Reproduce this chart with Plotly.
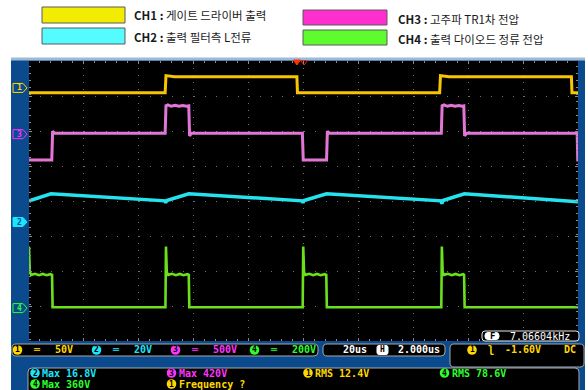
import plotly.graph_objects as go

# ---------------- channel settings ----------------
ch_names = ["CH1", "CH2", "CH3", "CH4"]
volts_per_div = [50, 20, 500, 200]
ground_div = [3.23, -0.6, 1.91, -3.06]          # ground marker position, divisions from centre
scale_labels = ["50V", "20V", "500V", "200V"]
trace_colors = ["#F7C600", "#25E2EE", "#E276D6", "#6BE01C"]
trace_widths = [3, 3.5, 3, 2.6]
text_colors = ["#FFD800", "#19E6FF", "#FF33FF", "#2CFF2C"]
swatch_colors = ["#F2EC00", "#55FCFF", "#FF2ECF", "#5EFB2E"]
legend_text = [
    "CH1 : 게이트 드라이버 출력",
    "CH2 : 출력 필터측 L전류",
    "CH3 : 고주파 TR1차 전압",
    "CH4 : 출력 다이오드 정류 전압",
]

# ---------------- waveforms (time in us, value in V) ----------------
ch1_t = [-100, -50.4, -50.1, -49.0, -47.0, -2.4, -2.2, 49.6, 49.9, 51.0, 53.0, 97.6, 97.8, 100]
ch1_v = [-6.8, -6.8, 17.6, 17.0, 16.1, 16.1, -6.8, -6.8, 17.6, 17.0, 16.1, 16.1, -6.8, -6.8]

ch2_t = [-100, -99.6, -92.0, -50.5, -50.2, -49.8, -41.8, -0.5, -0.2, 0.2, 8.4,
         50.1, 50.4, 50.8, 58.6, 99.7, 100]
ch2_v = [11.4, 12.3, 16.1, 12.1, 11.0, 12.3, 16.1, 12.1, 11.0, 12.3, 16.1,
         12.1, 10.4, 12.3, 16.1, 12.1, 11.6]

ch3_t = [-100, -91.7, -91.4, -90.6,
         -50.4, -50.1, -49.4, -48.2, -46.8, -45.4, -44.0, -42.6, -41.8, -41.5, -40.8,
         -0.4, -0.1, 8.4, 8.7, 9.4,
         50.2, 50.5, 51.2, 52.4, 53.8, 55.2, 56.6, 57.8, 58.4, 58.7, 59.4,
         99.7, 99.9, 100]
ch3_v = [-371, -371, 40, 14,
         14, 405, 418, 398, 412, 398, 410, 398, 404, -25, 14,
         14, -371, -371, 40, 14,
         14, 405, 418, 398, 412, 398, 410, 398, 404, -25, 14,
         14, -371, -371]

ch4_t = [-100, -99.7, -99.2, -97.8, -96.4, -95.0, -93.6, -92.2, -91.6, -91.4,
         -50.3, -50.1, -49.8, -49.3, -47.9, -46.5, -45.1, -43.7, -42.3, -41.8, -41.6,
         -0.3, -0.1, 0.2, 0.7, 2.1, 3.5, 4.9, 6.3, 7.7, 8.3, 8.5,
         50.2, 50.4, 50.7, 51.2, 52.6, 54.0, 55.4, 56.8, 58.2, 58.5, 58.7,
         100]
ch4_v = [352, 205, 190, 196, 188, 195, 188, 194, 190, 5,
         5, 352, 205, 190, 196, 188, 195, 188, 194, 190, 5,
         5, 352, 205, 190, 196, 188, 195, 188, 194, 190, 5,
         5, 352, 205, 190, 196, 188, 195, 188, 194, 190, 5,
         5]

waves = [(ch1_t, ch1_v), (ch2_t, ch2_v), (ch3_t, ch3_v), (ch4_t, ch4_v)]

# ---------------- readouts ----------------
timebase_label = "20us"
hpos_label = "2.000us"
trig_source = 1
trig_level_label = "-1.60V"
trig_coupling = "DC"
freq_label = "7.06604kHz"
trig_time = -2.4
meas_channel = [2, 3, 1, 4, 4, 1]
meas_text = ["Max 16.8V", "Max 420V", "RMS 12.4V", "RMS 78.6V", "Max 360V", "Frequency ?"]

# ---------------- geometry helpers ----------------
FIG_W, FIG_H = 588, 390
GX0, GX1, GY0, GY1 = 29, 578, 61, 341
FRAME = "#0C4A8E"
MONO = "DejaVu Sans Mono"
KR = "Noto Sans CJK KR"
TICK = "#8c8c8c"


def px(x):
    return (x - GX0) / (GX1 - GX0)


def py(y):
    return (GY1 - y) / (GY1 - GY0)


shapes = []
annotations = []


def rect(x0, y0, x1, y1, fill, line=None, lw=1):
    shapes.append(dict(type="rect", xref="paper", yref="paper", layer="above",
                       x0=px(x0), x1=px(x1), y0=py(y1), y1=py(y0), fillcolor=fill,
                       line=dict(color=line or fill, width=lw if line else 0)))


def rrect(x0, y0, x1, y1, r, fill, line, lw=1):
    pts = [("M", x0 + r, y0), ("L", x1 - r, y0), ("Q", x1, y0, x1, y0 + r),
           ("L", x1, y1 - r), ("Q", x1, y1, x1 - r, y1), ("L", x0 + r, y1),
           ("Q", x0, y1, x0, y1 - r), ("L", x0, y0 + r), ("Q", x0, y0, x0 + r, y0)]
    d = ""
    for p in pts:
        cmd, coords = p[0], p[1:]
        xy = []
        for i in range(0, len(coords), 2):
            xy.append(f"{px(coords[i]):.5f},{py(coords[i + 1]):.5f}")
        d += cmd + " " + " ".join(xy) + " "
    shapes.append(dict(type="path", xref="paper", yref="paper", layer="above", path=d + "Z",
                       fillcolor=fill, line=dict(color=line, width=lw)))


def circle(cx, cy, r, fill):
    shapes.append(dict(type="circle", xref="paper", yref="paper", layer="above",
                       x0=px(cx - r), x1=px(cx + r), y0=py(cy + r), y1=py(cy - r),
                       fillcolor=fill, line=dict(width=0)))


def text(x, y, s, color, size=10, family=MONO, anchor="left"):
    annotations.append(dict(xref="paper", yref="paper", x=px(x), y=py(y), text=s,
                            showarrow=False, xanchor=anchor, yanchor="middle",
                            font=dict(family=family, size=size, color=color)))


def badge(cx, cy, ch, r=4.8):
    circle(cx, cy, r, text_colors[ch - 1])
    text(cx, cy, f"<b>{ch}</b>", "black", size=8, anchor="center")


def volt_range(i):
    s, g = volts_per_div[i], ground_div[i]
    return [(-4 - g) * s, (4 - g) * s]


# ---------------- figure ----------------
fig = go.Figure()
axis_names = ["y", "y2", "y3", "y4"]
for i, (t, v) in enumerate(waves):
    fig.add_trace(go.Scatter(x=t, y=v, mode="lines", yaxis=axis_names[i], name=ch_names[i],
                             line=dict(color=trace_colors[i], width=trace_widths[i]),
                             hoverinfo="skip"))

axis_common = dict(showticklabels=False, zeroline=False, fixedrange=True, showgrid=True,
                   gridcolor="#707070", gridwidth=1, ticks="inside", ticklen=3,
                   tickcolor=TICK, mirror="ticks", showline=True,
                   linecolor="rgba(0,0,0,0)")
r1 = volt_range(0)
xr = [-100, 100]
layout = dict(
    width=FIG_W, height=FIG_H,
    margin=dict(l=GX0, r=FIG_W - GX1, t=GY0, b=FIG_H - GY1, pad=0),
    paper_bgcolor=FRAME, plot_bgcolor="black", showlegend=False,
    xaxis=dict(range=xr, tick0=-100, dtick=20, griddash="1px,6px",
               minor=dict(dtick=4, ticks="inside", ticklen=2, tickcolor=TICK, showgrid=False),
               **axis_common),
    # CH1 axis carries the graticule: one grid line per division
    yaxis=dict(range=r1, tick0=r1[0], dtick=volts_per_div[0], griddash="1px,10px",
               minor=dict(dtick=volts_per_div[0] / 5, ticks="inside", ticklen=2,
                          tickcolor=TICK, showgrid=False),
               **axis_common),
)
for i in range(1, 4):
    layout[f"yaxis{i + 1}"] = dict(overlaying="y", range=volt_range(i), visible=False,
                                   fixedrange=True)

# centre cross of the graticule: small ticks on both sides of the middle lines
for k, side in enumerate(["inside", "outside"]):
    layout[f"xaxis{k + 2}"] = dict(overlaying="x", anchor="free", position=0.5, range=xr,
                                   tick0=-100, dtick=20, ticks=side, ticklen=2, tickcolor=TICK,
                                   minor=dict(dtick=4, ticks=side, ticklen=2, tickcolor=TICK),
                                   showgrid=False, zeroline=False, showline=False,
                                   showticklabels=False, fixedrange=True)
    layout[f"yaxis{k + 5}"] = dict(overlaying="y", anchor="free", position=0.5, range=r1,
                                   tick0=r1[0], dtick=volts_per_div[0], ticks=side, ticklen=2,
                                   tickcolor=TICK,
                                   minor=dict(dtick=volts_per_div[0] / 5, ticks=side,
                                              ticklen=2, tickcolor=TICK),
                                   showgrid=False, zeroline=False, showline=False,
                                   showticklabels=False, fixedrange=True)
fig.update_layout(**layout)

# white surround and frame edge
rect(-5, -5, 593, 58, "white")
rect(-5, 58, 11, 400, "white")
rect(585, 58, 593, 400, "white")
rect(11, 57.5, 585, 60.5, "#9DBAD6")

# legend block
sw = [(42, 7, 125, 23), (42, 28, 125, 44), (303, 10, 387, 25), (303, 30, 387, 45)]
lt = [(132, 15), (132, 37), (396, 19), (396, 39)]
for i in range(4):
    x0, y0, x1, y1 = sw[i]
    rect(x0, y0, x1, y1, swatch_colors[i], "#5a5a5a", 1)
    name, rest = legend_text[i].split(" : ")
    text(lt[i][0], lt[i][1], f"<b>{name} :</b> {rest}", "#1a1a1a", size=11.5, family=KR)

# ground markers on the left edge
for i in range(4):
    ch = i + 1
    g = ground_div[i]
    yc = (GY0 + GY1) / 2 - g * (GY1 - GY0) / 8
    col = text_colors[i]
    fill = col if ch == 2 else FRAME
    pts = [(13, yc - 4.5), (23, yc - 4.5), (27, yc), (23, yc + 4.5), (13, yc + 4.5)]
    d = "M " + " L ".join(f"{px(a):.5f},{py(b):.5f}" for a, b in pts) + " Z"
    shapes.append(dict(type="path", xref="paper", yref="paper", layer="above", path=d,
                       fillcolor=fill, line=dict(color=col, width=1)))
    text(19, yc, f"<b>{ch}</b>", FRAME if ch == 2 else col, size=8, anchor="center")

# trigger position markers
shapes.append(dict(type="path", xref="x", yref="paper", layer="above",
                   path=f"M {trig_time - 1.3},{py(60)} L {trig_time + 1.3},{py(60)} L {trig_time},{py(65)} Z",
                   fillcolor="#FF3300", line=dict(color="#FF3300", width=1)))
shapes.append(dict(type="path", xref="x", yref="paper", layer="above",
                   path=f"M -1.1,{py(60.5)} L 1.5,{py(60.5)} L 0.2,{py(65)} Z",
                   fillcolor="rgba(0,0,0,0)", line=dict(color="#D8301A", width=1)))

# frequency counter box
rrect(482, 331, 579, 341, 3, "black", "#E8E8E8")
rrect(485, 332.5, 499, 339.5, 3, "white", "white")
text(492, 336, "<b>F</b>", "black", size=9, anchor="center")
text(508, 336, freq_label, "white")

# status bar
rrect(12, 344, 318, 356, 4, "black", "#A8A8A8")
xs = [17.5, 96.5, 175.5, 254.5]
for i in range(4):
    badge(xs[i], 350, i + 1)
    text(xs[i] + 13, 350, "<b>═</b>", text_colors[i])
    text(xs[i] + 35, 350, f"<b>{scale_labels[i]}</b>", text_colors[i])
rrect(323, 344, 445, 356, 4, "black", "#A8A8A8")
text(341, 350, f"<b>{timebase_label}</b>", "white")
rrect(377, 345.5, 388, 354.5, 2, "white", "white")
text(382.5, 350, "<b>H</b>", "black", size=8, anchor="center")
text(396, 350, f"<b>{hpos_label}</b>", "white")
rrect(450, 344, 584, 367, 4, "black", "#A8A8A8")
badge(472, 350, trig_source)
text(486, 350, "<b>ʅ</b>", text_colors[trig_source - 1])
text(503, 350, f"<b>{trig_level_label}</b>", text_colors[trig_source - 1])
text(562, 350, f"<b>{trig_coupling}</b>", text_colors[trig_source - 1])

# measurement panel
rrect(28, 368, 579, 396, 4, "black", "#A8A8A8")
mpos = [(35, 373), (171.5, 373), (308, 373), (444.5, 373), (35, 384), (171.5, 384)]
for (mx, my), ch, s in zip(mpos, meas_channel, meas_text):
    badge(mx, my, ch)
    text(mx + 5, my, f"<b>{s}</b>", text_colors[ch - 1])

fig.update_layout(shapes=shapes, annotations=annotations)
fig.write_html("out.html")
